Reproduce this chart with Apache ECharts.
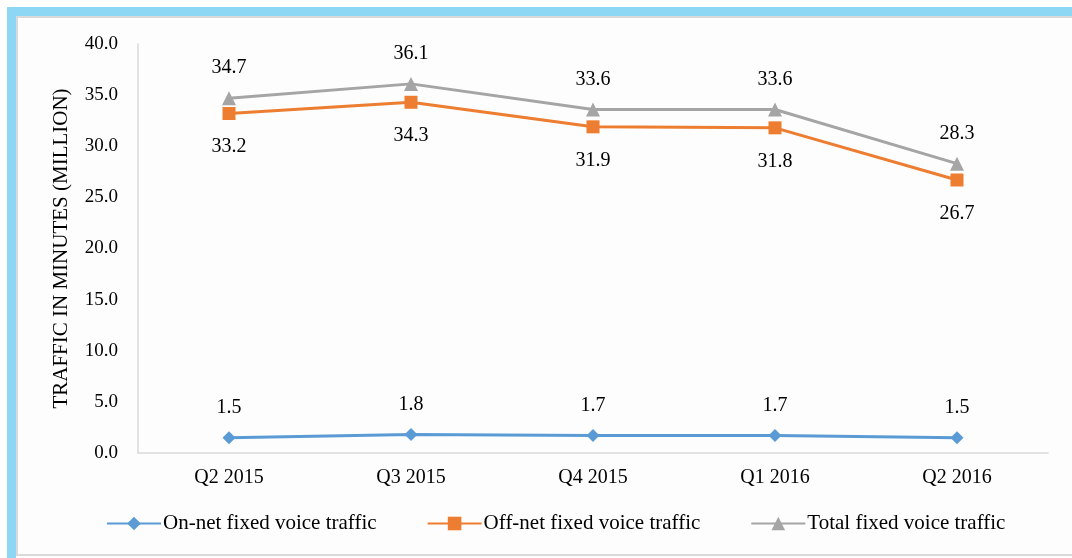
<!DOCTYPE html>
<html>
<head>
<meta charset="utf-8">
<script src="https://cdn.jsdelivr.net/npm/echarts@6/dist/echarts.min.js"></script>
<style>
    html, body { margin: 0; padding: 0; background: #fff; }
    #frame {
        position: absolute; left: 7px; top: 7px; width: 1065px; height: 551px;
        border-left: 9px solid #8dd7f5; border-top: 9px solid #8dd7f5;
        box-sizing: border-box;
    }
    #inner {
        position: absolute; left: 16px; top: 16px; width: 1056px; height: 540px;
        border-left: 2px solid #d9d9d9; border-top: 2px solid #d9d9d9; border-bottom: 2px solid #d9d9d9;
        box-sizing: border-box; background: #fdfdfd;
    }
    #main { position: absolute; left: 0; top: 0; width: 1072px; height: 558px; }
</style>
</head>
<body>
<div id="frame"></div>
<div id="inner"></div>
<div id="main"></div>
<script>
var quarters = ['Q2 2015', 'Q3 2015', 'Q4 2015', 'Q1 2016', 'Q2 2016'];
var onNet = [1.5, 1.8, 1.7, 1.7, 1.5];
var offNet = [33.2, 34.3, 31.9, 31.8, 26.7];
var total = [34.7, 36.1, 33.6, 33.6, 28.3];
var seriesNames = ['On-net fixed voice traffic', 'Off-net fixed voice traffic', 'Total fixed voice traffic'];

var FONT = 'Liberation Serif';

function makeLine(name, data, color, symbol, labelPos) {
    return {
        name: name,
        type: 'line',
        data: data,
        symbol: symbol,
        symbolSize: symbol === 'triangle' ? 14 : 13,
        lineStyle: { color: color, width: 3 },
        itemStyle: { color: color },
        label: {
            show: true,
            position: labelPos,
            distance: labelPos === 'bottom' ? 17 : 13,
            color: '#000',
            fontFamily: FONT,
            fontSize: 20,
            formatter: function (p) { return p.value.toFixed(1); }
        },
        animation: false
    };
}

var myChart = echarts.init(document.getElementById('main'));
myChart.setOption({
    backgroundColor: 'transparent',
    grid: { left: 138, right: 24, top: 44, bottom: 105 },
    legend: {
        data: seriesNames,
        bottom: 19,
        left: 101,
        itemWidth: 54,
        itemHeight: 17,
        itemGap: 50,
        textStyle: { fontFamily: FONT, fontSize: 21, color: '#000', padding: [0, 0, 0, -3] }
    },
    xAxis: {
        type: 'category',
        data: quarters,
        boundaryGap: true,
        axisLine: { lineStyle: { color: '#d9d9d9', width: 1.5 } },
        axisTick: { show: false },
        axisLabel: { fontFamily: FONT, fontSize: 20, color: '#000', margin: 15 }
    },
    yAxis: {
        type: 'value',
        min: 0,
        max: 40,
        interval: 5,
        name: 'TRAFFIC IN MINUTES (MILLION)',
        nameLocation: 'middle',
        nameGap: 66,
        nameTextStyle: { fontFamily: FONT, fontSize: 21, color: '#000' },
        axisLine: { show: true, lineStyle: { color: '#d9d9d9', width: 1.5 } },
        axisTick: { show: false },
        splitLine: { show: false },
        axisLabel: {
            fontFamily: FONT, fontSize: 19, color: '#000', margin: 20,
            formatter: function (v) { return v.toFixed(1); }
        }
    },
    series: [
        makeLine(seriesNames[0], onNet, '#5b9bd5', 'diamond', 'top'),
        makeLine(seriesNames[1], offNet, '#ed7d31', 'rect', 'bottom'),
        makeLine(seriesNames[2], total, '#a5a5a5', 'triangle', 'top')
    ]
});
</script>
</body>
</html>
